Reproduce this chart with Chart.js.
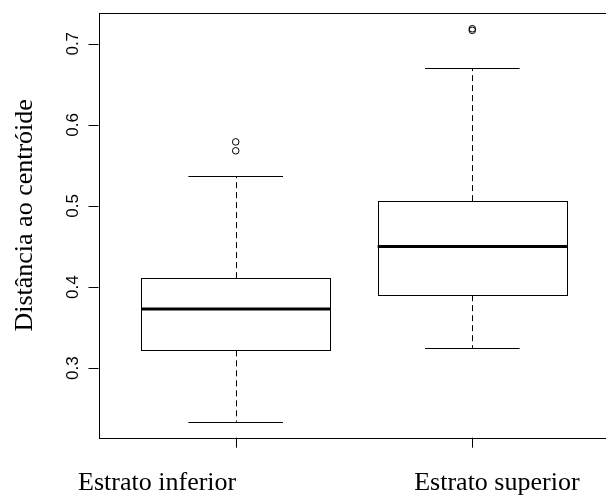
<!DOCTYPE html>
<html>
<head>
<meta charset="utf-8">
<script src="https://cdn.jsdelivr.net/npm/chart.js@4"></script>
<style>
  html, body { margin: 0; padding: 0; background: #fff; overflow: hidden; }
  #wrap { position: relative; width: 616px; height: 495px; }
</style>
</head>
<body>
<div id="wrap"><canvas id="c"></canvas></div>
<script>
// Distância ao centróide por estrato: resumo de cinco números e pontos extremos
const categories   = ['Estrato inferior', 'Estrato superior'];
const groupPos     = [1, 2];
const lowerWhisker = [0.234, 0.325];
const q1           = [0.322, 0.390];
const median       = [0.373, 0.450];
const q3           = [0.411, 0.506];
const upperWhisker = [0.537, 0.670];
const outliers     = [[0.568, 0.579], [0.7165, 0.7185]];
const yTicks       = [0.3, 0.4, 0.5, 0.6, 0.7];
const yTitle       = 'Distância ao centróide';

// group label anchors along the x scale
const labelPos = [0.668, 2.104];

const outlierPoints = [];
outliers.forEach((vals, i) => vals.forEach(v => outlierPoints.push({ x: groupPos[i], y: v })));

const BOX_W = 0.8;

const boxPlugin = {
  id: 'boxes',
  afterDatasetsDraw(chart) {
    const { ctx, scales: { x, y } } = chart;
    ctx.save();
    ctx.strokeStyle = '#000';
    groupPos.forEach((g, i) => {
      const cx = Math.round(x.getPixelForValue(g)) + 0.5;
      const l = x.getPixelForValue(g - BOX_W / 2);
      const r = x.getPixelForValue(g + BOX_W / 2);
      const sl = x.getPixelForValue(g - BOX_W / 4);
      const sr = x.getPixelForValue(g + BOX_W / 4);
      const pQ1 = y.getPixelForValue(q1[i]);
      const pQ3 = y.getPixelForValue(q3[i]);
      const pMed = y.getPixelForValue(median[i]);
      const pLo = y.getPixelForValue(lowerWhisker[i]);
      const pHi = y.getPixelForValue(upperWhisker[i]);

      // dashed whiskers
      ctx.lineWidth = 1;
      ctx.setLineDash([6, 4]);
      ctx.beginPath();
      ctx.moveTo(cx, pQ3); ctx.lineTo(cx, pHi);
      ctx.moveTo(cx, pQ1); ctx.lineTo(cx, pLo);
      ctx.stroke();
      ctx.setLineDash([]);

      // staples
      ctx.beginPath();
      ctx.moveTo(sl, Math.round(pHi) + 0.5); ctx.lineTo(sr, Math.round(pHi) + 0.5);
      ctx.moveTo(sl, Math.round(pLo) + 0.5); ctx.lineTo(sr, Math.round(pLo) + 0.5);
      ctx.stroke();

      // box
      ctx.fillStyle = '#fff';
      ctx.fillRect(l, pQ3, r - l, pQ1 - pQ3);
      ctx.strokeRect(Math.round(l) + 0.5, Math.round(pQ3) + 0.5,
                     Math.round(r) - Math.round(l), Math.round(pQ1) - Math.round(pQ3));

      // median
      ctx.lineWidth = 3;
      ctx.lineCap = 'butt';
      ctx.beginPath();
      ctx.moveTo(l, pMed); ctx.lineTo(r, pMed);
      ctx.stroke();
    });
    ctx.restore();
  },
  afterDraw(chart) {
    const { ctx, chartArea: a, scales: { x, y } } = chart;
    ctx.save();
    ctx.strokeStyle = '#000';
    ctx.lineWidth = 1;
    // frame
    ctx.strokeRect(Math.round(a.left) + 0.5, Math.round(a.top) + 0.5,
                   Math.round(a.right - a.left), Math.round(a.bottom - a.top));

    // y axis ticks and labels
    ctx.fillStyle = '#000';
    ctx.font = '17px "Liberation Sans", Arial, sans-serif';
    ctx.textAlign = 'center';
    ctx.textBaseline = 'alphabetic';
    yTicks.forEach(v => {
      const py = Math.round(y.getPixelForValue(v)) + 0.5;
      ctx.beginPath();
      ctx.moveTo(a.left - 10, py); ctx.lineTo(a.left, py);
      ctx.stroke();
      ctx.save();
      ctx.translate(a.left - 20.5, y.getPixelForValue(v));
      ctx.rotate(-Math.PI / 2);
      ctx.fillText(v.toFixed(1), 0, 0);
      ctx.restore();
    });

    // x axis ticks
    groupPos.forEach(g => {
      const px = Math.round(x.getPixelForValue(g)) + 0.5;
      ctx.beginPath();
      ctx.moveTo(px, a.bottom); ctx.lineTo(px, a.bottom + 10);
      ctx.stroke();
    });

    // group labels
    ctx.font = '26px "Liberation Serif", "Times New Roman", serif';
    ctx.textAlign = 'center';
    categories.forEach((c, i) => {
      ctx.fillText(c, x.getPixelForValue(labelPos[i]), a.bottom + 52.5);
    });

    // y title
    ctx.save();
    ctx.translate(a.left - 67, (a.top + a.bottom) / 2 - 10);
    ctx.rotate(-Math.PI / 2);
    ctx.fillText(yTitle, 0, 0);
    ctx.restore();
    ctx.restore();
  }
};

new Chart(document.getElementById('c'), {
  type: 'scatter',
  data: {
    datasets: [{
      label: 'extremos',
      data: outlierPoints,
      pointStyle: 'circle',
      pointRadius: 3.3,
      pointBorderWidth: 1,
      pointBorderColor: '#000',
      pointBackgroundColor: 'rgba(0,0,0,0)',
      showLine: false
    }]
  },
  options: {
    responsive: true,
    maintainAspectRatio: false,
    animation: false,
    events: [],
    layout: { padding: { left: 98.5, right: 6.5, top: 13, bottom: 57.3 } },
    plugins: { legend: { display: false }, tooltip: { enabled: false } },
    scales: {
      x: { type: 'linear', min: 0.42, max: 2.58, display: false },
      y: { type: 'linear', min: 0.2143, max: 0.7379, display: false }
    }
  },
  plugins: [boxPlugin]
});
</script>
</body>
</html>
